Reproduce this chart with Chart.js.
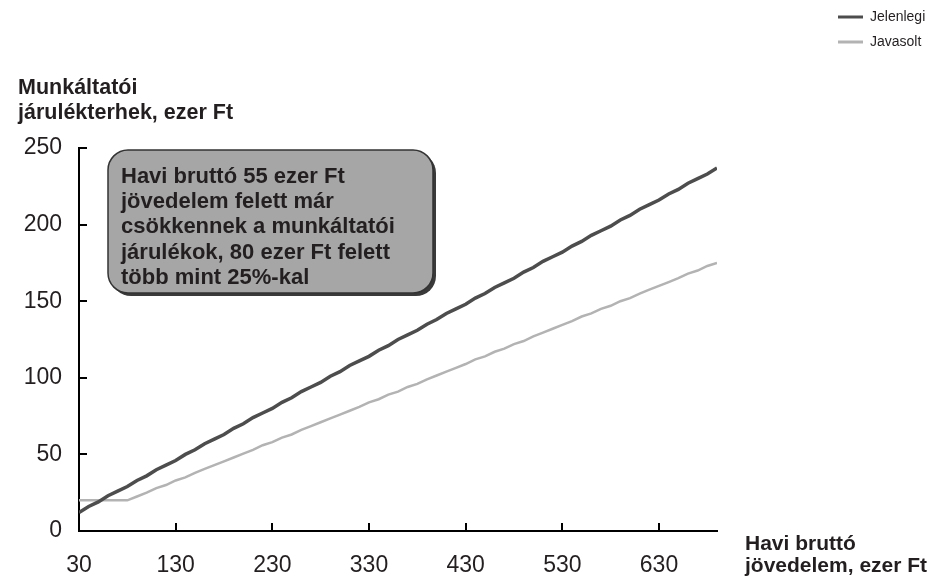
<!DOCTYPE html>
<html>
<head>
<meta charset="utf-8">
<script src="https://cdn.jsdelivr.net/npm/chart.js@4/dist/chart.umd.min.js"></script>
<style>
  html, body { margin: 0; padding: 0; background: #fff; }
  #wrap { width: 938px; height: 577px; }
</style>
</head>
<body>
<div id="wrap"><canvas id="c" width="938" height="577"></canvas></div>
<script>
// Monthly gross income, thousand Ft
const incomes = [30,40,50,60,70,80,90,100,110,120,130,140,150,160,170,180,190,200,210,220,
  230,240,250,260,270,280,290,300,310,320,330,340,350,360,370,380,390,400,410,420,
  430,440,450,460,470,480,490,500,510,520,530,540,550,560,570,580,590,600,610,620,
  630,640,650,660,670,680,690];

// Employer contributions under current rules, thousand Ft
const currentCharges = [12,16,19,23,26,29,33,36,40,43,
  46,50,53,57,60,63,67,70,74,77,
  80,84,87,91,94,97,101,104,108,111,
  114,118,121,125,128,131,135,138,142,145,
  148,152,155,159,162,165,169,172,176,179,
  182,186,189,193,196,199,203,206,210,213,
  216,220,223,227,230,233,237];

// Employer contributions under the proposal, thousand Ft
const proposedCharges = [20,20,20,20,20,20,
  22.5,25,28,30,33,35,38,40.5,43,45.5,
  48,50.5,53,56,58,61,63,66,68.5,71,
  73.5,76,78.5,81,84,86,89,91,94,96,
  99,101.5,104,106.5,109,112,114,117,119,122,
  124,127,129.5,132,134.5,137,140,142,145,147,
  150,152,155,157.5,160,162.5,165,168,170,173,175];

const seriesNames = ['Jelenlegi', 'Javasolt'];
const seriesColors = ['#4d4d4d', '#b3b3b3'];
const xTickValues = [30,130,230,330,430,530,630];
const yTickValues = [0,50,100,150,200,250];
const yTitleLines = ['Munkáltatói', 'járulékterhek, ezer Ft'];
const xTitleLines = ['Havi bruttó', 'jövedelem, ezer Ft'];
const noteLines = [
  'Havi bruttó 55 ezer Ft',
  'jövedelem felett már',
  'csökkennek a munkáltatói',
  'járulékok, 80 ezer Ft felett',
  'több mint 25%-kal'
];

const FONT = "'Liberation Sans', Arial, sans-serif";
const TEXT = '#231f20';

function roundRect(ctx, x, y, w, h, r) {
  ctx.beginPath();
  ctx.moveTo(x + r, y);
  ctx.lineTo(x + w - r, y);
  ctx.arcTo(x + w, y, x + w, y + r, r);
  ctx.lineTo(x + w, y + h - r);
  ctx.arcTo(x + w, y + h, x + w - r, y + h, r);
  ctx.lineTo(x + r, y + h);
  ctx.arcTo(x, y + h, x, y + h - r, r);
  ctx.lineTo(x, y + r);
  ctx.arcTo(x, y, x + r, y, r);
  ctx.closePath();
}

// Inward tick marks, axis titles, callout box and legend
const decorations = {
  id: 'decorations',
  afterDatasetsDraw(chart) {
    const ctx = chart.ctx;
    const xs = chart.scales.x, ys = chart.scales.y;
    const area = chart.chartArea;
    ctx.save();

    // tick marks pointing into the plot
    ctx.strokeStyle = '#000';
    ctx.lineWidth = 2;
    yTickValues.forEach(v => {
      if (v === 0) return;
      const y = Math.round(ys.getPixelForValue(v));
      ctx.beginPath();
      ctx.moveTo(area.left, y);
      ctx.lineTo(area.left + 8, y);
      ctx.stroke();
    });
    xTickValues.forEach(v => {
      if (v === xs.min) return;
      const x = Math.round(xs.getPixelForValue(v));
      ctx.beginPath();
      ctx.moveTo(x, area.bottom);
      ctx.lineTo(x, area.bottom - 8);
      ctx.stroke();
    });

    // axis titles
    ctx.fillStyle = TEXT;
    ctx.textAlign = 'left';
    ctx.textBaseline = 'alphabetic';
    ctx.font = 'bold 21.5px ' + FONT;
    yTitleLines.forEach((t, i) => ctx.fillText(t, 18, 94 + i * 25));
    ctx.font = 'bold 21px ' + FONT;
    xTitleLines.forEach((t, i) => ctx.fillText(t, 745, 550 + i * 22));

    // callout box with drop shadow
    const bx = 108, by = 150, bw = 325, bh = 143, br = 20;
    ctx.fillStyle = '#3a3a3a';
    roundRect(ctx, bx + 3, by + 3, bw, bh, br);
    ctx.fill();
    ctx.fillStyle = '#a6a6a6';
    roundRect(ctx, bx, by, bw, bh, br);
    ctx.fill();
    ctx.strokeStyle = '#333';
    ctx.lineWidth = 1.5;
    ctx.stroke();
    ctx.fillStyle = TEXT;
    ctx.font = 'bold 22px ' + FONT;
    noteLines.forEach((t, i) => ctx.fillText(t, 121, 183 + i * 25.2));

    // legend
    ctx.font = '14px ' + FONT;
    ctx.textBaseline = 'middle';
    chart.data.datasets.forEach((ds, i) => {
      const y = 17 + i * 25;
      ctx.strokeStyle = ds.borderColor;
      ctx.lineWidth = 3;
      ctx.beginPath();
      ctx.moveTo(838, y);
      ctx.lineTo(863, y);
      ctx.stroke();
      ctx.fillStyle = TEXT;
      ctx.fillText(ds.label, 870, y);
    });
    ctx.restore();
  }
};

new Chart(document.getElementById('c'), {
  type: 'line',
  data: {
    datasets: [
      {
        label: seriesNames[0],
        data: incomes.map((x, i) => ({ x, y: currentCharges[i] })),
        borderColor: seriesColors[0],
        borderWidth: 3.5,
        pointRadius: 0,
        tension: 0,
        fill: false
      },
      {
        label: seriesNames[1],
        data: incomes.map((x, i) => ({ x, y: proposedCharges[i] })),
        borderColor: seriesColors[1],
        borderWidth: 2.5,
        pointRadius: 0,
        tension: 0,
        fill: false
      }
    ]
  },
  options: {
    responsive: false,
    animation: false,
    devicePixelRatio: 1,
    layout: { padding: { left: 0, top: 148, right: 938 - 717, bottom: 0 } },
    plugins: { legend: { display: false }, tooltip: { enabled: false } },
    scales: {
      x: {
        type: 'linear',
        min: 30,
        max: 690,
        afterBuildTicks: s => { s.ticks = xTickValues.map(v => ({ value: v })); },
        afterFit: s => { s.height = 46; },
        grid: { display: false, drawTicks: false },
        border: { display: true, color: '#000', width: 2 },
        ticks: {
          autoSkip: false, maxRotation: 0, padding: 21,
          color: TEXT, font: { family: FONT, size: 23 }
        }
      },
      y: {
        min: 0,
        max: 250,
        afterBuildTicks: s => { s.ticks = yTickValues.map(v => ({ value: v })); },
        afterFit: s => { s.width = 79; },
        grid: { display: false, drawTicks: false },
        border: { display: true, color: '#000', width: 2 },
        ticks: {
          padding: 17,
          color: TEXT, font: { family: FONT, size: 23 }
        }
      }
    }
  },
  plugins: [decorations]
});
</script>
</body>
</html>
